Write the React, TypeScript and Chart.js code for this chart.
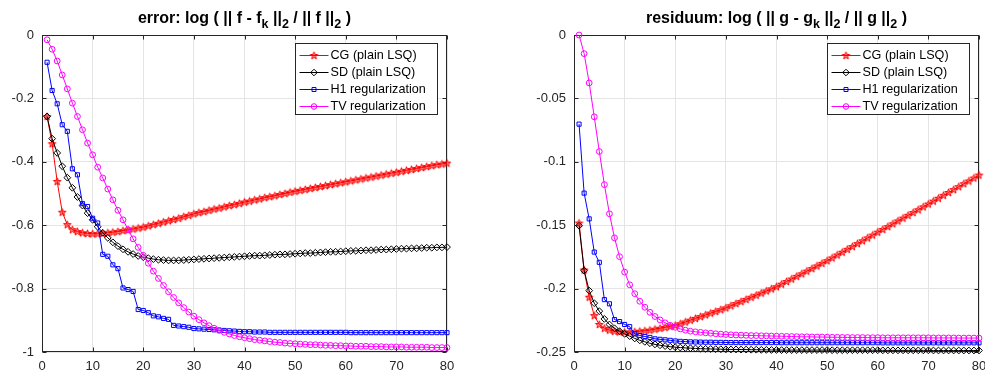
import React, { useEffect, useRef } from 'react';
import { Chart, registerables } from 'chart.js';

Chart.register(...registerables);

// ---------- data ----------
const iterations = [
  1, 2, 3, 4, 5, 6, 7, 8, 9, 10, 11, 12, 13, 14, 15, 16, 17, 18, 19, 20,
  21, 22, 23, 24, 25, 26, 27, 28, 29, 30, 31, 32, 33, 34, 35, 36, 37, 38, 39, 40,
  41, 42, 43, 44, 45, 46, 47, 48, 49, 50, 51, 52, 53, 54, 55, 56, 57, 58, 59, 60,
  61, 62, 63, 64, 65, 66, 67, 68, 69, 70, 71, 72, 73, 74, 75, 76, 77, 78, 79, 80,
];

const seriesLabels = ['CG (plain LSQ)', 'SD (plain LSQ)', 'H1 regularization', 'TV regularization'];

const xTicks = [0, 10, 20, 30, 40, 50, 60, 70, 80];
const errorYTicks = [0, -0.2, -0.4, -0.6, -0.8, -1];
const residuumYTicks = [0, -0.05, -0.1, -0.15, -0.2, -0.25];

// error: log( ||f - f_k|| / ||f|| )
const errorCG = [
  -0.257, -0.343, -0.462, -0.559, -0.598, -0.614, -0.620, -0.624, -0.626, -0.627,
  -0.627, -0.626, -0.624, -0.622, -0.620, -0.617, -0.615, -0.612, -0.609, -0.606,
  -0.602, -0.598, -0.594, -0.590, -0.586, -0.582, -0.578, -0.573, -0.569, -0.564,
  -0.560, -0.557, -0.553, -0.549, -0.546, -0.542, -0.538, -0.535, -0.531, -0.527,
  -0.524, -0.520, -0.517, -0.513, -0.510, -0.507, -0.503, -0.500, -0.496, -0.493,
  -0.490, -0.487, -0.484, -0.481, -0.478, -0.475, -0.472, -0.469, -0.466, -0.463,
  -0.460, -0.457, -0.454, -0.451, -0.448, -0.445, -0.442, -0.439, -0.436, -0.433,
  -0.430, -0.427, -0.424, -0.421, -0.418, -0.415, -0.412, -0.409, -0.407, -0.404,
];
const errorSD = [
  -0.257, -0.327, -0.372, -0.414, -0.450, -0.482, -0.511, -0.538, -0.562, -0.583,
  -0.605, -0.624, -0.640, -0.654, -0.666, -0.676, -0.684, -0.691, -0.697, -0.701,
  -0.704, -0.707, -0.709, -0.710, -0.711, -0.711, -0.711, -0.710, -0.709, -0.708,
  -0.707, -0.706, -0.705, -0.704, -0.703, -0.702, -0.701, -0.700, -0.699, -0.698,
  -0.697, -0.696, -0.696, -0.695, -0.694, -0.693, -0.692, -0.692, -0.691, -0.690,
  -0.689, -0.688, -0.688, -0.687, -0.686, -0.685, -0.684, -0.684, -0.683, -0.682,
  -0.681, -0.681, -0.680, -0.679, -0.679, -0.678, -0.677, -0.677, -0.676, -0.675,
  -0.674, -0.674, -0.673, -0.673, -0.672, -0.671, -0.671, -0.670, -0.670, -0.669,
];
const errorH1 = [
  -0.086, -0.175, -0.217, -0.283, -0.304, -0.422, -0.441, -0.532, -0.541, -0.578,
  -0.593, -0.692, -0.698, -0.725, -0.737, -0.798, -0.803, -0.809, -0.866, -0.869,
  -0.876, -0.886, -0.889, -0.894, -0.897, -0.916, -0.918, -0.920, -0.922, -0.926,
  -0.927, -0.928, -0.929, -0.930, -0.931, -0.932, -0.933, -0.934, -0.935, -0.936,
  -0.936, -0.937, -0.937, -0.937, -0.938, -0.938, -0.938, -0.938, -0.938, -0.938,
  -0.938, -0.938, -0.938, -0.938, -0.938, -0.938, -0.938, -0.938, -0.938, -0.938,
  -0.939, -0.939, -0.939, -0.939, -0.939, -0.939, -0.939, -0.939, -0.939, -0.939,
  -0.939, -0.939, -0.939, -0.939, -0.939, -0.939, -0.939, -0.939, -0.939, -0.939,
];
const errorTV = [
  -0.015, -0.045, -0.082, -0.126, -0.170, -0.215, -0.257, -0.299, -0.341, -0.378,
  -0.417, -0.451, -0.486, -0.520, -0.553, -0.583, -0.614, -0.643, -0.670, -0.695,
  -0.720, -0.745, -0.768, -0.790, -0.810, -0.828, -0.845, -0.860, -0.874, -0.887,
  -0.898, -0.908, -0.917, -0.925, -0.932, -0.938, -0.943, -0.948, -0.952, -0.955,
  -0.958, -0.961, -0.963, -0.965, -0.967, -0.969, -0.970, -0.972, -0.973, -0.974,
  -0.975, -0.976, -0.977, -0.977, -0.978, -0.979, -0.979, -0.980, -0.980, -0.981,
  -0.981, -0.982, -0.982, -0.982, -0.983, -0.983, -0.983, -0.984, -0.984, -0.984,
  -0.984, -0.985, -0.985, -0.985, -0.985, -0.985, -0.986, -0.986, -0.986, -0.986,
];

// residuum: log( ||g - g_k|| / ||g|| )
const residuumCG = [
  -0.1483, -0.1853, -0.2068, -0.2213, -0.2283, -0.2313, -0.2327, -0.2336, -0.2341, -0.2343,
  -0.2343, -0.2340, -0.2336, -0.2332, -0.2327, -0.2320, -0.2313, -0.2306, -0.2298, -0.2290,
  -0.2277, -0.2263, -0.2249, -0.2235, -0.2221, -0.2207, -0.2193, -0.2180, -0.2166, -0.2152,
  -0.2135, -0.2118, -0.2102, -0.2085, -0.2068, -0.2052, -0.2035, -0.2018, -0.2002, -0.1985,
  -0.1965, -0.1944, -0.1924, -0.1903, -0.1883, -0.1862, -0.1842, -0.1821, -0.1801, -0.1780,
  -0.1758, -0.1735, -0.1713, -0.1690, -0.1668, -0.1645, -0.1623, -0.1600, -0.1578, -0.1555,
  -0.1533, -0.1511, -0.1489, -0.1466, -0.1444, -0.1422, -0.1400, -0.1378, -0.1355, -0.1333,
  -0.1310, -0.1287, -0.1264, -0.1242, -0.1219, -0.1196, -0.1173, -0.1151, -0.1128, -0.1105,
];
const residuumSD = [
  -0.1504, -0.1858, -0.2016, -0.2115, -0.2178, -0.2239, -0.2283, -0.2313, -0.2336, -0.2357,
  -0.2375, -0.2393, -0.2408, -0.2420, -0.2431, -0.2440, -0.2447, -0.2453, -0.2458, -0.2462,
  -0.2465, -0.2468, -0.2470, -0.2472, -0.2474, -0.2475, -0.2476, -0.2477, -0.2478, -0.2479,
  -0.2480, -0.2480, -0.2481, -0.2481, -0.2482, -0.2482, -0.2483, -0.2483, -0.2484, -0.2484,
  -0.2485, -0.2485, -0.2485, -0.2485, -0.2485, -0.2485, -0.2485, -0.2485, -0.2485, -0.2485,
  -0.2486, -0.2486, -0.2486, -0.2486, -0.2486, -0.2486, -0.2486, -0.2486, -0.2486, -0.2486,
  -0.2487, -0.2487, -0.2487, -0.2487, -0.2487, -0.2487, -0.2487, -0.2487, -0.2487, -0.2487,
  -0.2488, -0.2488, -0.2488, -0.2488, -0.2488, -0.2488, -0.2488, -0.2488, -0.2488, -0.2488,
];
const residuumH1 = [
  -0.0703, -0.1247, -0.1450, -0.1712, -0.1793, -0.2087, -0.2120, -0.2244, -0.2260, -0.2283,
  -0.2300, -0.2357, -0.2370, -0.2378, -0.2385, -0.2396, -0.2400, -0.2404, -0.2408, -0.2413,
  -0.2416, -0.2418, -0.2420, -0.2421, -0.2422, -0.2423, -0.2423, -0.2424, -0.2424, -0.2425,
  -0.2426, -0.2426, -0.2426, -0.2426, -0.2426, -0.2426, -0.2426, -0.2426, -0.2426, -0.2426,
  -0.2427, -0.2427, -0.2427, -0.2427, -0.2427, -0.2427, -0.2427, -0.2427, -0.2427, -0.2427,
  -0.2427, -0.2427, -0.2427, -0.2427, -0.2427, -0.2427, -0.2427, -0.2427, -0.2427, -0.2427,
  -0.2428, -0.2428, -0.2428, -0.2428, -0.2428, -0.2428, -0.2428, -0.2428, -0.2428, -0.2428,
  -0.2428, -0.2428, -0.2428, -0.2428, -0.2428, -0.2428, -0.2428, -0.2428, -0.2428, -0.2428,
];
const residuumTV = [
  0.0, -0.0147, -0.0378, -0.0645, -0.0919, -0.1180, -0.1410, -0.1600, -0.1748, -0.1870,
  -0.1970, -0.2040, -0.2100, -0.2147, -0.2187, -0.2220, -0.2247, -0.2270, -0.2289, -0.2305,
  -0.2318, -0.2328, -0.2336, -0.2341, -0.2345, -0.2349, -0.2352, -0.2356, -0.2359, -0.2362,
  -0.2364, -0.2366, -0.2367, -0.2369, -0.2370, -0.2371, -0.2372, -0.2373, -0.2374, -0.2375,
  -0.2376, -0.2377, -0.2378, -0.2379, -0.2380, -0.2380, -0.2381, -0.2382, -0.2382, -0.2383,
  -0.2384, -0.2384, -0.2385, -0.2385, -0.2386, -0.2386, -0.2386, -0.2387, -0.2387, -0.2387,
  -0.2388, -0.2388, -0.2388, -0.2388, -0.2388, -0.2388, -0.2388, -0.2388, -0.2388, -0.2388,
  -0.2389, -0.2389, -0.2389, -0.2389, -0.2389, -0.2390, -0.2390, -0.2390, -0.2390, -0.2390,
];

type Seg = { t: string; sub?: boolean };
const errorTitle: Seg[] = [
  { t: 'error: log ( || f - f' }, { t: 'k', sub: true }, { t: ' ||' }, { t: '2', sub: true },
  { t: ' / || f ||' }, { t: '2', sub: true }, { t: ' )' },
];
const residuumTitle: Seg[] = [
  { t: 'residuum: log ( || g - g' }, { t: 'k', sub: true }, { t: ' ||' }, { t: '2', sub: true },
  { t: ' / || g ||' }, { t: '2', sub: true }, { t: ' )' },
];

// ---------- styling ----------
const FONT = "'Liberation Sans', Arial, Helvetica, sans-serif";
const AXIS_COLOR = '#262626';
const GRID_COLOR = '#e4e4e4';
const COLORS = ['#ff0000', '#000000', '#0000ff', '#ff00ff'];

function makeStar(color: string, r: number): HTMLCanvasElement {
  const size = Math.ceil(r * 2 + 3);
  const c = document.createElement('canvas');
  c.width = size;
  c.height = size;
  const ctx = c.getContext('2d')!;
  const cx = size / 2;
  const cy = size / 2 + 0.3;
  ctx.beginPath();
  for (let i = 0; i < 10; i++) {
    const ang = -Math.PI / 2 + (i * Math.PI) / 5;
    const rr = i % 2 === 0 ? r : r * 0.4;
    ctx.lineTo(cx + rr * Math.cos(ang), cy + rr * Math.sin(ang));
  }
  ctx.closePath();
  ctx.fillStyle = 'rgba(255,0,0,0.45)';
  ctx.fill();
  ctx.strokeStyle = color;
  ctx.lineWidth = 1;
  ctx.stroke();
  return c;
}

function drawMarker(ctx: CanvasRenderingContext2D, kind: number, x: number, y: number, star: HTMLCanvasElement) {
  ctx.save();
  ctx.lineWidth = 1;
  ctx.strokeStyle = COLORS[kind];
  ctx.beginPath();
  if (kind === 0) {
    ctx.drawImage(star, x - star.width / 2, y - star.height / 2);
  } else if (kind === 1) {
    const r = 3.3;
    ctx.moveTo(x, y - r);
    ctx.lineTo(x + r, y);
    ctx.lineTo(x, y + r);
    ctx.lineTo(x - r, y);
    ctx.closePath();
    ctx.stroke();
  } else if (kind === 2) {
    const s = 2;
    ctx.rect(x - s, y - s, 2 * s, 2 * s);
    ctx.stroke();
  } else {
    ctx.arc(x, y, 2.8, 0, Math.PI * 2);
    ctx.stroke();
  }
  ctx.restore();
}

const boxPlugin = {
  id: 'mbox',
  beforeDatasetsDraw(chart: any) {
    const { ctx, chartArea: ca, scales } = chart;
    ctx.save();
    ctx.strokeStyle = AXIS_COLOR;
    ctx.lineWidth = 1;
    const L = Math.round(ca.left) + 0.5;
    const R = Math.round(ca.right) - 0.5;
    const T = Math.round(ca.top) + 0.5;
    const B = Math.round(ca.bottom) - 0.5;
    ctx.strokeRect(L, T, R - L, B - T);
    const tl = 4;
    ctx.beginPath();
    for (const t of scales.x.ticks) {
      const px = Math.round(scales.x.getPixelForValue(t.value)) + 0.5;
      ctx.moveTo(px, B);
      ctx.lineTo(px, B - tl);
      ctx.moveTo(px, T);
      ctx.lineTo(px, T + tl);
    }
    for (const t of scales.y.ticks) {
      const py = Math.round(scales.y.getPixelForValue(t.value)) + 0.5;
      ctx.moveTo(L, py);
      ctx.lineTo(L + tl, py);
      ctx.moveTo(R, py);
      ctx.lineTo(R - tl, py);
    }
    ctx.stroke();
    ctx.restore();
  },
};

function titlePlugin(segs: Seg[]) {
  return {
    id: 'mtitle',
    afterDraw(chart: any) {
      const { ctx, chartArea: ca } = chart;
      ctx.save();
      const mainFont = `bold 16px ${FONT}`;
      const subFont = `bold 12.5px ${FONT}`;
      let total = 0;
      for (const s of segs) {
        ctx.font = s.sub ? subFont : mainFont;
        total += ctx.measureText(s.t).width;
      }
      let x = (ca.left + ca.right) / 2 - total / 2;
      const y = 23;
      ctx.textAlign = 'left';
      ctx.textBaseline = 'alphabetic';
      ctx.fillStyle = '#000000';
      for (const s of segs) {
        ctx.font = s.sub ? subFont : mainFont;
        ctx.fillText(s.t, x, s.sub ? y + 5 : y);
        x += ctx.measureText(s.t).width;
      }
      ctx.restore();
    },
  };
}

function legendPlugin(star: HTMLCanvasElement) {
  return {
    id: 'mlegend',
    afterDraw(chart: any) {
      const { ctx, chartArea: ca } = chart;
      const w = 142;
      const h = 71;
      const left = Math.round(ca.right - 10 - w) + 0.5;
      const top = Math.round(ca.top + 8) + 0.5;
      ctx.save();
      ctx.fillStyle = '#ffffff';
      ctx.fillRect(left, top, w, h);
      ctx.strokeStyle = AXIS_COLOR;
      ctx.lineWidth = 1;
      ctx.strokeRect(left, top, w, h);
      ctx.font = `12.6px ${FONT}`;
      ctx.textAlign = 'left';
      ctx.textBaseline = 'middle';
      chart.data.datasets.forEach((ds: any, i: number) => {
        const y = Math.round(top + 11.5 + i * 16.9) + 0.5;
        ctx.strokeStyle = COLORS[i];
        ctx.beginPath();
        ctx.moveTo(left + 4, y);
        ctx.lineTo(left + 33, y);
        ctx.stroke();
        drawMarker(ctx, i, left + 18.5, y, star);
        ctx.fillStyle = '#000000';
        ctx.fillText(ds.label, left + 35, y + 0.5);
      });
      ctx.restore();
    },
  };
}

function fmt(v: number): string {
  const r = Math.round(v * 1000) / 1000;
  return r === 0 ? '0' : String(r);
}

function makeConfig(
  series: number[][],
  yMin: number,
  yTicks: number[],
  yAxisWidth: number,
  padRight: number,
  title: Seg[],
  star: HTMLCanvasElement,
): any {
  const pointStyles: any[] = [star, 'rectRot', 'rect', 'circle'];
  const radii = [4, 3.4, 2.9, 2.9];
  const datasets = series.map((vals, i) => ({
    label: seriesLabels[i],
    data: vals.map((y, j) => ({ x: iterations[j], y })),
    borderColor: COLORS[i],
    backgroundColor: 'rgba(0,0,0,0)',
    pointBackgroundColor: 'rgba(0,0,0,0)',
    pointBorderColor: COLORS[i],
    pointStyle: pointStyles[i],
    pointRadius: radii[i],
    pointHoverRadius: radii[i],
    pointBorderWidth: 1,
    borderWidth: 1,
    tension: 0,
    fill: false,
    clip: false,
    order: 3 - i,
  }));
  const tickFont = { family: FONT, size: 13 };
  return {
    type: 'line',
    data: { datasets },
    options: {
      responsive: false,
      animation: false,
      devicePixelRatio: 1,
      events: [],
      layout: { padding: { left: 0, top: 35, right: padRight, bottom: 0 } },
      plugins: {
        legend: { display: false },
        title: { display: false },
        tooltip: { enabled: false },
      },
      scales: {
        x: {
          type: 'linear',
          min: 0,
          max: 80,
          afterBuildTicks: (s: any) => {
            s.ticks = xTicks.map((v) => ({ value: v }));
          },
          afterFit: (s: any) => {
            s.height = 22;
          },
          grid: { color: GRID_COLOR, lineWidth: 1, drawTicks: false },
          border: { display: false },
          ticks: {
            font: tickFont,
            color: AXIS_COLOR,
            padding: 7,
            maxRotation: 0,
            autoSkip: false,
            callback: (v: number) => fmt(v),
          },
        },
        y: {
          type: 'linear',
          min: yMin,
          max: 0,
          afterBuildTicks: (s: any) => {
            s.ticks = yTicks.map((v) => ({ value: v }));
          },
          afterFit: (s: any) => {
            s.width = yAxisWidth;
          },
          grid: { color: GRID_COLOR, lineWidth: 1, drawTicks: false },
          border: { display: false },
          ticks: {
            font: tickFont,
            color: AXIS_COLOR,
            padding: 8,
            autoSkip: false,
            callback: (v: number) => fmt(v),
          },
        },
      },
    },
    plugins: [boxPlugin, titlePlugin(title), legendPlugin(star)],
  };
}

export default function App() {
  const leftRef = useRef<HTMLCanvasElement>(null);
  const rightRef = useRef<HTMLCanvasElement>(null);

  useEffect(() => {
    const star = makeStar(COLORS[0], 4);
    const c1 = new Chart(
      leftRef.current!,
      makeConfig([errorCG, errorSD, errorH1, errorTV], -1, errorYTicks, 42, 45, errorTitle, star),
    );
    const c2 = new Chart(
      rightRef.current!,
      makeConfig([residuumCG, residuumSD, residuumH1, residuumTV], -0.25, residuumYTicks, 82, 43, residuumTitle, star),
    );
    return () => {
      c1.destroy();
      c2.destroy();
    };
  }, []);

  return (
    <div
      style={{
        position: 'fixed',
        left: 0,
        top: 0,
        width: 985,
        height: 374,
        overflow: 'hidden',
        background: '#ffffff',
      }}
    >
      <canvas
        ref={leftRef}
        width={492}
        height={374}
        style={{ position: 'absolute', left: 0, top: 0, width: 492, height: 374 }}
      />
      <canvas
        ref={rightRef}
        width={530}
        height={374}
        style={{ position: 'absolute', left: 492, top: 0, width: 530, height: 374 }}
      />
    </div>
  );
}
